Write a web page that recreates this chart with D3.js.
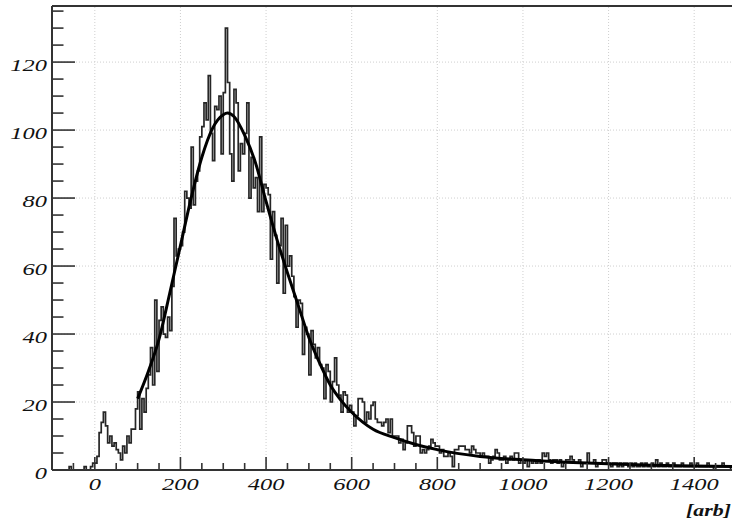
<!DOCTYPE html>
<html>
<head>
<meta charset="utf-8">
<script src="https://cdn.jsdelivr.net/npm/d3@7"></script>
<style>
  body { margin: 0; background: #fff; }
  text { font-family: "Liberation Serif", "Times New Roman", serif; font-style: italic; fill: #111; }
</style>
</head>
<body>
<script>

// histogram binning (arb units)
var binStart = -100
var binWidth = 5

// counts per bin, one row per 100 units
var counts = [
  0,0,0,0,0,0,0,0,1,0, 0,0,0,0,0,1,0,0,1,2,                          // -100
  2,4,11,14,17,13,8,10,7,8, 6,5,3,7,5,10,8,12,12,18,                 // 0
  23,12,21,17,24,28,36,25,50,29, 44,48,40,39,45,41,54,74,63,65,      // 100
  66,70,82,80,77,95,78,85,88,98, 101,108,103,116,99,91,107,106,110,93, // 200
  111,130,114,93,85,112,108,88,96,93, 99,108,80,92,83,86,76,98,76,84,  // 300
  83,81,62,76,69,55,66,74,52,72, 60,63,57,51,42,50,49,34,42,40,      // 400
  28,41,37,33,36,31,30,21,31,29, 20,26,33,25,22,17,23,22,17,19,      // 500
  17,13,16,21,21,20,14,17,15,19, 20,15,14,14,13,14,15,11,15,10,      // 600
  10,10,8,9,6,8,13,13,11,7, 10,10,5,6,5,6,7,9,8,7,                   // 700
  7,5,6,4,4,5,4,1,6,6, 7,7,7,6,6,5,7,6,5,5,                          // 800
  4,5,4,4,2,3,4,6,5,3, 3,4,2,3,4,3,5,5,2,3,                          // 900
  2,3,1,3,2,3,2,3,2,5, 4,5,3,2,3,3,2,3,1,2,                          // 1000
  3,3,4,3,2,2,3,1,2,2, 5,2,2,3,1,2,2,3,3,2,                          // 1100
  2,1,2,2,1,2,1,2,2,1, 2,1,2,1,1,2,1,2,1,1,                          // 1200
  2,1,3,1,2,1,1,2,1,1, 2,1,1,1,2,1,1,1,2,1,                          // 1300
  1,2,1,1,1,1,2,1,1,0, 1,1,1,2,1,1,1,0,1,1                           // 1400
]

// fitted curve
var fitX = [100,125,150,175,200,225,250,275,300,310,325,350,375,400,425,450,475,500,525,550,575,600,650,700,750,800,900,1000,1100,1200,1300,1400,1500]
var fitY = [21,29,38.5,52,66,80,92,100.5,104.5,105,104,98.5,90.5,79,68,58,48.5,39,31.5,25,20.5,17,12,9.5,7.5,6,4,3,2.3,1.8,1.4,1.2,1.0]

// axis ticks
var xTicks = [0,200,400,600,800,1000,1200,1400]
var yTicks = [0,20,40,60,80,100,120]
var xMinor = d3.range(-50, 1500, 50)
var yMinor = d3.range(5, 136, 5)

var width = 732
var height = 521
var stretch = 1.4   // the picture's text is wide

var x = d3.scaleLinear().domain([-100, 1500]).range([52, 737])
var y = d3.scaleLinear().domain([0, 136.5]).range([470, 6])

var svg = d3.select("body")
            .append("svg")
            .attr("width", width)
            .attr("height", height)

// dotted grid
svg.append("g")
    .selectAll("line")
    .data(xTicks)
  .enter().append("line")
    .attr("x1", function(d) { return x(d) })
    .attr("x2", function(d) { return x(d) })
    .attr("y1", y(0))
    .attr("y2", y(136.5))
    .style("stroke", "#cfcfcf")
    .style("stroke-width", 1)
    .style("stroke-dasharray", "1,2")

svg.append("g")
    .selectAll("line")
    .data(yTicks.slice(1))
  .enter().append("line")
    .attr("x1", x(-100))
    .attr("x2", x(1500))
    .attr("y1", function(d) { return y(d) })
    .attr("y2", function(d) { return y(d) })
    .style("stroke", "#cfcfcf")
    .style("stroke-width", 1)
    .style("stroke-dasharray", "1,2")

// histogram as a step outline
var bins = counts.map(function(c, i) {
  return { x0: binStart + i * binWidth, x1: binStart + (i + 1) * binWidth, c: c }
})

var steps = [[bins[0].x0, 0]]
bins.forEach(function(b) {
  steps.push([b.x0, b.c])
  steps.push([b.x1, b.c])
})

var stepLine = d3.line()
    .x(function(d) { return x(d[0]) })
    .y(function(d) { return y(d[1]) })

svg.append("path")
    .datum(steps)
    .attr("d", stepLine)
    .style("fill", "none")
    .style("stroke", "#262626")
    .style("stroke-width", 1.7)

// fit curve
var fitLine = d3.line()
    .x(function(d) { return x(d[0]) })
    .y(function(d) { return y(d[1]) })
    .curve(d3.curveMonotoneX)

svg.append("path")
    .datum(fitX.map(function(v, i) { return [v, fitY[i]] }))
    .attr("d", fitLine)
    .style("fill", "none")
    .style("stroke", "#000")
    .style("stroke-width", 3)

// frame: left axis, bottom axis, top edge
var axisColor = "#333"
svg.append("line")
    .attr("x1", x(-100)).attr("x2", x(-100))
    .attr("y1", y(0)).attr("y2", y(136.5))
    .style("stroke", axisColor).style("stroke-width", 2)
svg.append("line")
    .attr("x1", x(-100)).attr("x2", x(1500))
    .attr("y1", y(0)).attr("y2", y(0))
    .style("stroke", axisColor).style("stroke-width", 2)
svg.append("line")
    .attr("x1", x(-100)).attr("x2", x(1500))
    .attr("y1", y(136.5)).attr("y2", y(136.5))
    .style("stroke", axisColor).style("stroke-width", 2)

// y ticks point inward
svg.append("g")
    .selectAll("line")
    .data(yMinor)
  .enter().append("line")
    .attr("x1", x(-100))
    .attr("x2", function(d) { return x(-100) + (d % 20 == 0 ? 23 : 11.5) })
    .attr("y1", function(d) { return y(d) })
    .attr("y2", function(d) { return y(d) })
    .style("stroke", axisColor)
    .style("stroke-width", 1.6)

// x ticks point up
svg.append("g")
    .selectAll("line")
    .data(xMinor)
  .enter().append("line")
    .attr("x1", function(d) { return x(d) })
    .attr("x2", function(d) { return x(d) })
    .attr("y1", y(0))
    .attr("y2", function(d) { return y(0) - (d % 200 == 0 ? 13 : 7) })
    .style("stroke", axisColor)
    .style("stroke-width", 1.6)

// tick labels
svg.append("g")
    .selectAll("text")
    .data(yTicks)
  .enter().append("text")
    .attr("transform", function(d) { return "translate(47," + (y(d) + 8.5) + ") scale(" + stretch + ",1)" })
    .attr("text-anchor", "end")
    .style("font-size", "17.5px")
    .text(function(d) { return d })

svg.append("g")
    .selectAll("text")
    .data(xTicks)
  .enter().append("text")
    .attr("transform", function(d) { return "translate(" + x(d) + ",490) scale(" + stretch + ",1)" })
    .attr("text-anchor", "middle")
    .style("font-size", "17.5px")
    .text(function(d) { return d })

// axis title
svg.append("text")
    .attr("transform", "translate(731,516) scale(1.25,1)")
    .attr("text-anchor", "end")
    .style("font-size", "17.5px")
    .style("font-weight", "bold")
    .text("[arb]")

</script>
</body>
</html>
